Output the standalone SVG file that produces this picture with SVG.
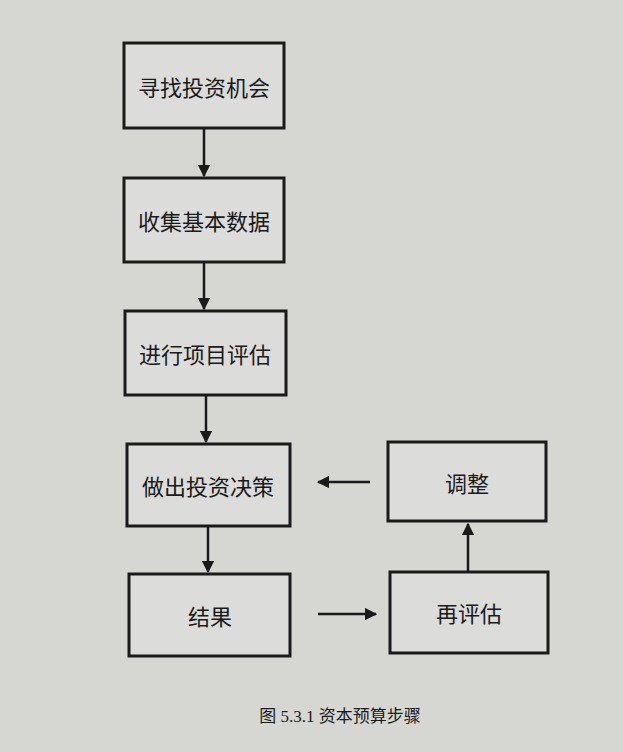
<svg xmlns="http://www.w3.org/2000/svg" width="623" height="752" viewBox="0 0 623 752">
<style>
.box{fill:#dcdcda;stroke:#1a1a1a;stroke-width:3}
.t{font-family:"Noto Sans CJK SC","Liberation Sans",sans-serif;font-size:22px;fill:#1a1a1a;text-anchor:middle;dominant-baseline:central}
.c{stroke:#1a1a1a;stroke-width:2.5;fill:none;marker-end:url(#a)}
</style>
<defs><marker id="a" viewBox="0 0 10 10" refX="9" refY="5" markerWidth="5" markerHeight="5" orient="auto"><path d="M0,0 L10,5 L0,10 z" fill="#1a1a1a"/></marker></defs>
<rect width="623" height="752" fill="#d6d6d3"/>
<g id="n1"><rect class="box" x="124" y="43" width="160" height="85"/><text class="t" x="204" y="86">寻找投资机会</text></g>
<g id="n2"><rect class="box" x="124" y="178" width="160" height="84"/><text class="t" x="204" y="220">收集基本数据</text></g>
<g id="n3"><rect class="box" x="125" y="311" width="161" height="84"/><text class="t" x="205" y="353">进行项目评估</text></g>
<g id="n4"><rect class="box" x="127" y="444" width="163" height="82"/><text class="t" x="208" y="485">做出投资决策</text></g>
<g id="n5"><rect class="box" x="129" y="574" width="161" height="82"/><text class="t" x="210" y="615">结果</text></g>
<g id="n6"><rect class="box" x="388" y="442" width="158" height="79"/><text class="t" x="467" y="482">调整</text></g>
<g id="n7"><rect class="box" x="390" y="572" width="158" height="81"/><text class="t" x="469" y="612">再评估</text></g>
<g id="connectors">
<line class="c" x1="204" y1="129" x2="204" y2="176"/>
<line class="c" x1="204" y1="263" x2="204" y2="309"/>
<line class="c" x1="206" y1="396" x2="206" y2="442"/>
<line class="c" x1="208" y1="527" x2="208" y2="572"/>
<line class="c" x1="318" y1="614" x2="376" y2="614"/>
<line class="c" x1="370" y1="482" x2="318" y2="482"/>
<line class="c" x1="468" y1="571" x2="468" y2="524"/>
</g>
<text x="340" y="722" font-family="'Liberation Serif','Noto Sans CJK SC',serif" font-size="17" fill="#1a1a1a" text-anchor="middle">图 5.3.1  资本预算步骤</text>
</svg>
